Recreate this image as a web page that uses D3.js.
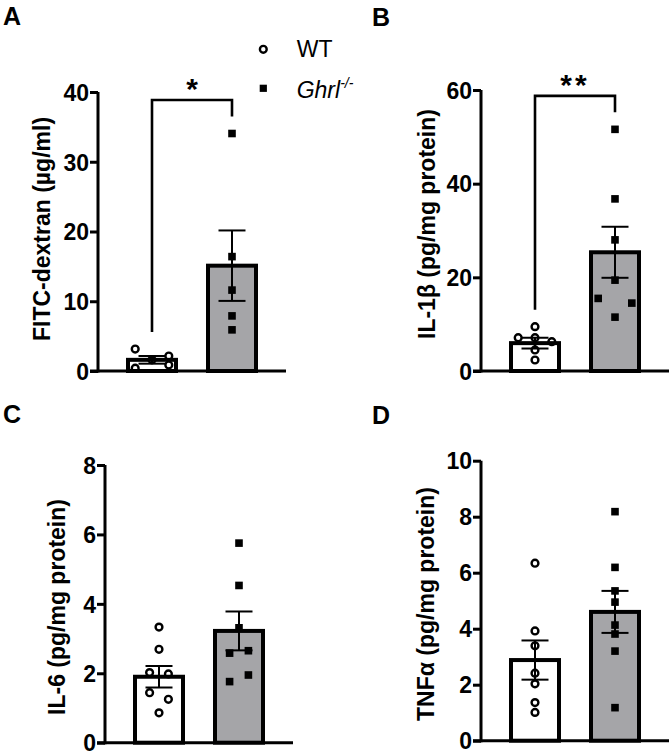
<!DOCTYPE html>
<html>
<head>
<meta charset="utf-8">
<script src="https://cdn.jsdelivr.net/npm/d3@7"></script>
<style>
  html, body { margin: 0; padding: 0; background: #fff; }
  svg { display: block; }
  text { font-family: "Liberation Sans", Arial, sans-serif; }
</style>
</head>
<body>
<script>
// ---------------- DATA ----------------
const categories = ["WT", "Ghrl-/-"];
const panelLetters = ["A", "B", "C", "D"];
const yLabels = ["FITC-dextran (µg/ml)", "IL-1β (pg/mg protein)", "IL-6 (pg/mg protein)", "TNFα (pg/mg protein)"];
const yMaxes = [40, 60, 8, 10];
const tickValues = [[0, 10, 20, 30, 40], [0, 20, 40, 60], [0, 2, 4, 6, 8], [0, 2, 4, 6, 8, 10]];

const meanWT = [1.6, 5.95, 1.9, 2.88];
const semWT = [0.55, 1.15, 0.31, 0.7];
const meanKO = [15.1, 25.35, 3.22, 4.6];
const semKO = [5.05, 5.45, 0.56, 0.75];

// individual points (value) and their horizontal slot (-1, 0, 1)
const pointsWT = [
  [3.15, 0.4, 1.6, 2.15, 0.86],
  [9.47, 7.11, 7.11, 6.26, 4.49, 2.35],
  [3.33, 2.69, 2.02, 1.98, 1.44, 1.25, 0.86],
  [6.34, 3.92, 3.39, 2.41, 2.03, 1.36, 1.01]
];
const slotsWT = [
  [-1, -1, 0, 1, 1],
  [0, -1, 0, 1, 0, 0],
  [0, 0, -1, 1, -1, 1, 0],
  [0, 0, 0, 0, 0, 0, 0]
];
const pointsKO = [
  [34.05, 16.4, 11.6, 7.9, 5.9],
  [51.6, 36.75, 28.0, 19.4, 15.5, 14.5, 11.5],
  [5.75, 4.53, 3.31, 2.58, 2.65, 1.95, 1.76],
  [8.18, 6.19, 5.35, 4.95, 4.13, 3.81, 3.2, 1.18]
];
const slotsKO = [
  [0, 0, 0, 0, 0],
  [0, 0, 0, 0, -1, 1, 0],
  [0, 0, 0, -1, 1, 1, -1],
  [0, 0, 0, 0, 0, 0, 0, 0]
];
const significance = ["*", "**", null, null];

// ---------------- LAYOUT ----------------
const W = 670, H = 754;
const panels = [
  { x0: 98,  y0: 371,   yTop: 92,    spread: 16.8, labelX: 50,  labelY: 229, letterX: 3,   letterY: 25 },
  { x0: 481, y0: 371,   yTop: 90,    spread: 16.8, labelX: 435, labelY: 224, letterX: 372, letterY: 26 },
  { x0: 105, y0: 742.7, yTop: 465,   spread: 9.4,  labelX: 65,  labelY: 607, letterX: 3,   letterY: 423 },
  { x0: 481, y0: 740.7, yTop: 460.7, spread: 8.5,  labelX: 434, labelY: 604, letterX: 372, letterY: 424 }
];
const plotW = 188;
const grayFill = "#a5a5a8";

const svg = d3.select("body").append("svg").attr("width", W).attr("height", H);

panels.forEach((p, i) => {
  const g = svg.append("g");
  const x = d3.scaleBand().domain(categories).range([p.x0, p.x0 + plotW])
    .paddingInner(0.4).paddingOuter(0.375);
  const y = d3.scaleLinear().domain([0, yMaxes[i]]).range([p.y0, p.yTop]);
  const bw = x.bandwidth();

  const groups = [
    { cat: categories[0], mean: meanWT[i], sem: semWT[i], pts: pointsWT[i], slots: slotsWT[i], fill: "#fff", shape: "circle" },
    { cat: categories[1], mean: meanKO[i], sem: semKO[i], pts: pointsKO[i], slots: slotsKO[i], fill: grayFill, shape: "square" }
  ];

  // bars
  g.selectAll("rect.bar").data(groups).join("rect")
    .attr("class", "bar")
    .attr("x", d => x(d.cat))
    .attr("width", bw)
    .attr("y", d => y(d.mean))
    .attr("height", d => p.y0 - y(d.mean))
    .attr("fill", d => d.fill)
    .attr("stroke", "#000")
    .attr("stroke-width", 4);

  // error bars
  groups.forEach(d => {
    const cx = x(d.cat) + bw / 2;
    const eg = g.append("g").attr("stroke", "#000").attr("stroke-width", 2);
    eg.append("line").attr("x1", cx).attr("x2", cx).attr("y1", y(d.mean - d.sem)).attr("y2", y(d.mean + d.sem));
    [d.mean - d.sem, d.mean + d.sem].forEach(v => {
      eg.append("line").attr("x1", cx - 13.5).attr("x2", cx + 13.5).attr("y1", y(v)).attr("y2", y(v));
    });
  });

  // points
  groups.forEach(d => {
    const cx = x(d.cat) + bw / 2;
    d.pts.forEach((v, k) => {
      const px = cx + d.slots[k] * p.spread;
      if (d.shape === "circle") {
        g.append("circle").attr("cx", px).attr("cy", y(v)).attr("r", 3.4)
          .attr("fill", "none").attr("stroke", "#000").attr("stroke-width", 2.4);
      } else {
        g.append("rect").attr("x", px - 3.8).attr("y", y(v) - 3.8).attr("width", 7.6).attr("height", 7.6)
          .attr("fill", "#000");
      }
    });
  });

  // y axis
  const ax = g.append("g").attr("transform", `translate(${p.x0},0)`)
    .call(d3.axisLeft(y).tickValues(tickValues[i]).tickSize(8).tickPadding(1).tickFormat(d3.format("d")));
  ax.select(".domain").attr("stroke-width", 3).attr("d", `M0,${p.yTop}V${p.y0 + 1.5}`);
  ax.selectAll(".tick line").attr("stroke-width", 3);
  ax.selectAll(".tick text").attr("font-size", 23).attr("font-weight", "bold")
    .attr("font-family", "'Liberation Sans', Arial, sans-serif").attr("fill", "#000").attr("dy", "0.36em");

  // x axis baseline
  g.append("line").attr("x1", p.x0 - 8).attr("x2", p.x0 + plotW).attr("y1", p.y0).attr("y2", p.y0)
    .attr("stroke", "#000").attr("stroke-width", 3);

  // y label
  g.append("text")
    .attr("transform", `translate(${p.labelX},${p.labelY}) rotate(-90)`)
    .attr("text-anchor", "middle")
    .attr("font-size", 23).attr("font-weight", "bold")
    .text(yLabels[i]);

  // panel letter
  g.append("text").attr("x", p.letterX).attr("y", p.letterY)
    .attr("font-size", 25).attr("font-weight", "bold").text(panelLetters[i]);

  // significance bracket
  if (significance[i]) {
    const c1 = x(categories[0]) + bw / 2, c2 = x(categories[1]) + bw / 2;
    const leg1 = y(d3.max(groups[0].pts)) - 17;
    const leg2 = y(d3.max(groups[1].pts)) - 17;
    const top = Math.min(leg1, leg2) - 16.5;
    g.append("path")
      .attr("d", `M${c1},${leg1}V${top}H${c2}V${leg2}`)
      .attr("fill", "none").attr("stroke", "#000").attr("stroke-width", 2.6);
    g.append("text").attr("x", (c1 + c2) / 2).attr("y", top - 1)
      .attr("text-anchor", "middle").attr("font-size", 30).attr("font-weight", "bold")
      .attr("letter-spacing", significance[i].length > 1 ? 3 : 0)
      .text(significance[i]);
  }
});

// legend
const lg = svg.append("g");
lg.append("circle").attr("cx", 263.3).attr("cy", 49.3).attr("r", 3.4)
  .attr("fill", "none").attr("stroke", "#000").attr("stroke-width", 2.4);
lg.append("text").attr("x", 296.7).attr("y", 56.7).attr("font-size", 23).text(categories[0]);
lg.append("rect").attr("x", 263.3 - 3.6).attr("y", 88.3 - 3.6).attr("width", 7.2).attr("height", 7.2).attr("fill", "#000");
const t2 = lg.append("text").attr("x", 296.7).attr("y", 98.3).attr("font-size", 23).attr("font-style", "italic");
t2.append("tspan").text("Ghrl");
t2.append("tspan").attr("font-size", 14).attr("dy", -10).text("-/-");
</script>
</body>
</html>
